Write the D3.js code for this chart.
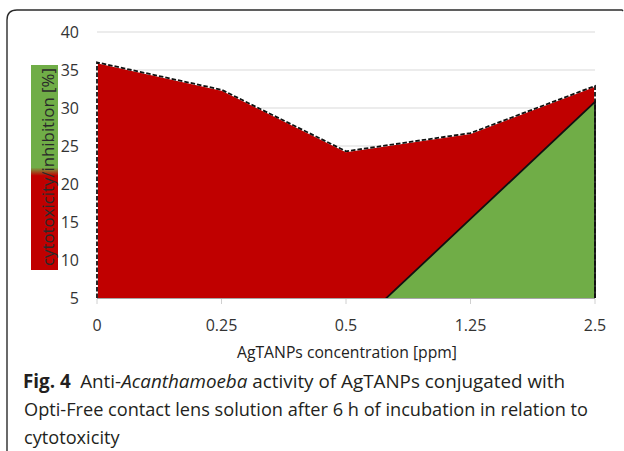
<!DOCTYPE html>
<html>
<head>
<meta charset="utf-8">
<script src="https://cdn.jsdelivr.net/npm/d3@7"></script>
<style>
  html, body { margin: 0; padding: 0; background: #fff; }
  svg { display: block; }
  text { font-family: "Open Sans", "Noto Sans", sans-serif; }
</style>
</head>
<body>
<script>
// ---- data ----
const categories = ["0", "0.25", "0.5", "1.25", "2.5"];
const cytotoxicity = [36.0, 32.4, 24.3, 26.7, 32.9];   // red area (dashed outline)
const inhibition = [0, 0, 0, 15.4, 30.8];               // green area (solid outline)
const yTicks = [5, 10, 15, 20, 25, 30, 35, 40];
const yLabel = "cytotoxicity/inhibition [%]";
const xLabel = "AgTANPs concentration [ppm]";

const W = 624, H = 451;
const svg = d3.select("body").append("svg").attr("width", W).attr("height", H);

// frame (rounded, open at the right/bottom)
svg.append("path")
  .attr("d", "M7,451 L7,20 Q7,10 17,10 L622,10 L623,11")
  .attr("fill", "none").attr("stroke", "#2b2b2b").attr("stroke-width", 1.4);

const plot = { left: 97, right: 595, top: 32, bottom: 298 };
const x = d3.scalePoint().domain(categories).range([plot.left, plot.right]);
const y = d3.scaleLinear().domain([5, 40]).range([plot.bottom, plot.top]);

const defs = svg.append("defs");
defs.append("clipPath").attr("id", "plotclip")
  .append("rect").attr("x", plot.left - 2).attr("y", plot.top - 5)
  .attr("width", plot.right - plot.left + 4).attr("height", plot.bottom - plot.top + 5);

// gridlines
svg.append("g").selectAll("line").data(yTicks.filter(d => d > 5)).join("line")
  .attr("x1", plot.left).attr("x2", plot.right)
  .attr("y1", d => y(d)).attr("y2", d => y(d))
  .attr("stroke", "#d9d9d9").attr("stroke-width", 1);

// y tick labels
svg.append("g").selectAll("text").data(yTicks).join("text")
  .attr("x", 79).attr("y", d => y(d)).attr("dy", "0.36em")
  .attr("text-anchor", "end").attr("font-size", 16).attr("fill", "#333")
  .text(d => d);

const g = svg.append("g").attr("clip-path", "url(#plotclip)");

const redPts = categories.map((c, i) => [x(c), y(cytotoxicity[i])]);
const greenPts = categories.map((c, i) => [x(c), y(inhibition[i])]);

const area = d3.area().x(d => d[0]).y0(plot.bottom).y1(d => d[1]);
const line = d3.line().x(d => d[0]).y(d => d[1]);

// red area
g.append("path").attr("d", area(redPts)).attr("fill", "#C00000");
// green area
g.append("path").attr("d", area(greenPts)).attr("fill", "#70AD47");

// red dashed outline: left edge, top, right edge
const redOutline = [[x(categories[0]), plot.bottom], ...redPts, [x(categories[categories.length - 1]), plot.bottom]];
g.append("path").attr("d", line(redOutline))
  .attr("fill", "none").attr("stroke", "#ffffff").attr("stroke-width", 1.8);
g.append("path").attr("d", line(redOutline))
  .attr("fill", "none").attr("stroke", "#111").attr("stroke-width", 1.8)
  .attr("stroke-dasharray", "4.5,2");

// green solid outline: top + right edge
const greenOutline = [...greenPts, [x(categories[categories.length - 1]), plot.bottom]];
g.append("path").attr("d", line(greenOutline))
  .attr("fill", "none").attr("stroke", "#111").attr("stroke-width", 1.8)
  .attr("stroke-linejoin", "miter");

// x axis baseline and ticks
svg.append("line").attr("x1", plot.left).attr("x2", plot.right)
  .attr("y1", plot.bottom + 0.5).attr("y2", plot.bottom + 0.5)
  .attr("stroke", "#a6a6a6").attr("stroke-width", 1);
svg.append("g").selectAll("line").data(categories).join("line")
  .attr("x1", d => x(d)).attr("x2", d => x(d))
  .attr("y1", plot.bottom + 1).attr("y2", plot.bottom + 6)
  .attr("stroke", "#d0d0d0").attr("stroke-width", 1);

// x tick labels
svg.append("g").selectAll("text").data(categories).join("text")
  .attr("x", d => x(d)).attr("y", 325).attr("dy", "0.36em")
  .attr("text-anchor", "middle").attr("font-size", 16).attr("fill", "#333")
  .text(d => d);

// x axis title
const xt = svg.append("text").attr("x", 347).attr("y", 352).attr("dy", "0.36em")
  .attr("text-anchor", "middle").attr("font-size", 16).attr("fill", "#222")
  .text(xLabel);
(function(){
  const w = xt.node().getComputedTextLength();
  if (Math.abs(w - 220) > 3) xt.attr("textLength", 220).attr("lengthAdjust", "spacingAndGlyphs");
})();

// y axis label with green/red background
const grad = defs.append("linearGradient").attr("id", "ylabgrad")
  .attr("x1", 0).attr("y1", 0).attr("x2", 0).attr("y2", 1);
grad.append("stop").attr("offset", "0%").attr("stop-color", "#70AD47");
grad.append("stop").attr("offset", "50%").attr("stop-color", "#70AD47");
grad.append("stop").attr("offset", "54%").attr("stop-color", "#C00000");
grad.append("stop").attr("offset", "100%").attr("stop-color", "#C00000");
svg.append("rect").attr("x", 31).attr("y", 65).attr("width", 27).attr("height", 205)
  .attr("fill", "url(#ylabgrad)");
const yl = svg.append("text")
  .attr("transform", "translate(48,167) rotate(-90)")
  .attr("text-anchor", "middle").attr("font-size", 16).attr("fill", "#2a2a2a")
  .attr("dy", "0.36em")
  .text(yLabel);
(function(){
  const target = 198;
  const w = yl.node().getComputedTextLength();
  if (Math.abs(w - target) > 3) yl.attr("textLength", target).attr("lengthAdjust", "spacingAndGlyphs");
})();

// caption
const cap = svg.append("g").attr("fill", "#231f20").attr("font-size", 19);
const l1 = cap.append("text").attr("x", 23).attr("y", 388);
l1.append("tspan").attr("font-weight", "bold").text("Fig. 4");
l1.append("tspan").attr("xml:space", "preserve").text("\u2002Anti-");
l1.append("tspan").attr("font-style", "italic").text("Acanthamoeba");
l1.append("tspan").text(" activity of AgTANPs conjugated with");
const l2 = cap.append("text").attr("x", 24).attr("y", 416)
  .text("Opti-Free contact lens solution after 6 h of incubation in relation to");
const l3 = cap.append("text").attr("x", 24).attr("y", 443.5).text("cytotoxicity");
const k = 564 / l2.node().getComputedTextLength();
l1.attr("textLength", 542).attr("lengthAdjust", "spacingAndGlyphs");
[l2, l3].forEach(t => {
  const w = t.node().getComputedTextLength();
  t.attr("textLength", w * k).attr("lengthAdjust", "spacingAndGlyphs");
});
</script>
</body>
</html>
